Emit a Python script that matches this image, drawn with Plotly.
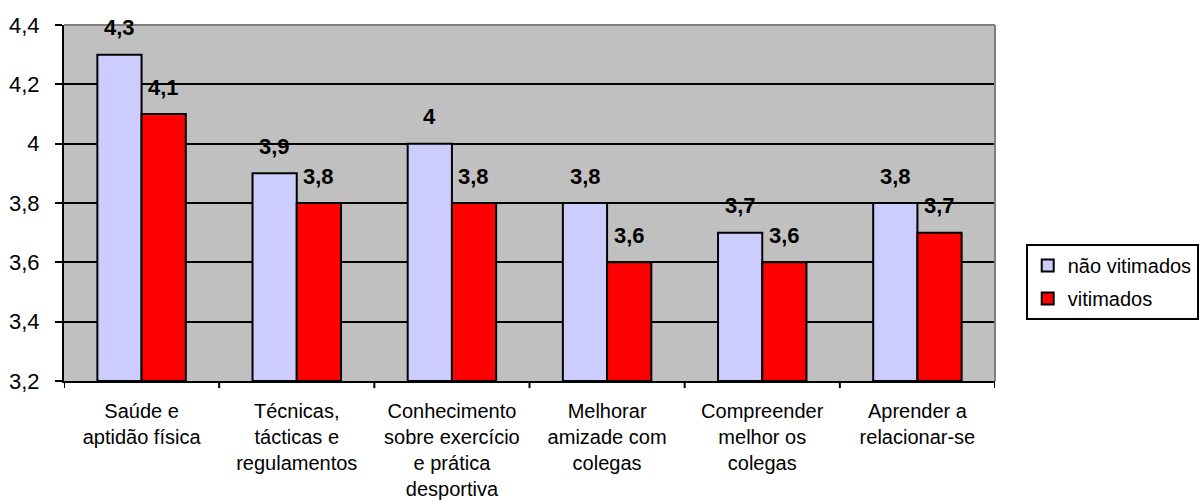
import plotly.graph_objects as go

categories = [
    "Saúde e<br>aptidão física",
    "Técnicas,<br>tácticas e<br>regulamentos",
    "Conhecimento<br>sobre exercício<br>e prática<br>desportiva",
    "Melhorar<br>amizade com<br>colegas",
    "Compreender<br>melhor os<br>colegas",
    "Aprender a<br>relacionar-se",
]
nao_vitimados = [4.3, 3.9, 4.0, 3.8, 3.7, 3.8]
vitimados = [4.1, 3.8, 3.8, 3.6, 3.6, 3.7]
tick_vals = [3.2, 3.4, 3.6, 3.8, 4.0, 4.2, 4.4]
tick_text = ["3,2", "3,4", "3,6", "3,8", "4", "4,2", "4,4"]

BASE = 3.2
FONT = "Liberation Sans, Arial, sans-serif"
series = [
    ("não vitimados", nao_vitimados, "#CCCCFF"),
    ("vitimados", vitimados, "#FF0000"),
]

fig = go.Figure()
for name, vals, color in series:
    fig.add_trace(go.Bar(
        x=list(range(len(categories))),
        y=[v - BASE for v in vals],
        base=BASE,
        name=name,
        legendgroup=name,
        marker=dict(color=color, line=dict(color="black", width=2)),
    ))


def fmt(v):
    s = ("%.1f" % v).rstrip("0").rstrip(".")
    return s.replace(".", ",")


offset = 0.142
annotations = []
for k, (name, vals, color) in enumerate(series):
    dx = -offset if k == 0 else offset
    for i, v in enumerate(vals):
        annotations.append(dict(
            x=i + dx, y=v, xref="x", yref="y",
            text="<b>%s</b>" % fmt(v), showarrow=False,
            yanchor="middle", yshift=27,
            font=dict(family=FONT, size=22, color="black"),
        ))

fig.update_layout(
    width=1200, height=502,
    margin=dict(l=64, r=205, t=25, b=121, autoexpand=False),
    paper_bgcolor="white",
    plot_bgcolor="#C0C0C0",
    barmode="group",
    bargap=0.43,
    bargroupgap=0,
    separators=",.",
    font=dict(family=FONT, color="black"),
    annotations=annotations,
    legend=dict(
        x=1.033, y=0.385, xanchor="left", yanchor="top",
        bordercolor="black", borderwidth=2,
        font=dict(family=FONT, size=20, color="black"),
        itemwidth=30, traceorder="grouped", tracegroupgap=4,
    ),
    xaxis=dict(
        tickmode="array",
        tickvals=list(range(len(categories))),
        ticktext=categories,
        range=[-0.5, len(categories) - 0.5],
        showline=True, linecolor="black", linewidth=2,
        ticks="", showgrid=False, automargin=False,
        ticklabelstandoff=11,
        tickfont=dict(family=FONT, size=20, color="black"),
    ),
    yaxis=dict(
        range=[BASE, 4.4],
        tickmode="array", tickvals=tick_vals, ticktext=tick_text,
        showline=True, linecolor="black", linewidth=2,
        ticks="outside", ticklen=7, tickwidth=2, tickcolor="black",
        showgrid=True, gridcolor="black", gridwidth=2,
        zeroline=False, automargin=False,
        ticklabelstandoff=11,
        tickfont=dict(family=FONT, size=22, color="black"),
    ),
    shapes=[
        dict(type="line", xref="paper", yref="paper", x0=0, x1=1, y0=1, y1=1,
             line=dict(color="#808080", width=2)),
        dict(type="line", xref="paper", yref="paper", x0=1, x1=1, y0=0, y1=1,
             line=dict(color="#808080", width=2)),
    ] + [
        dict(type="line", xref="x", yref="paper", x0=i - 0.5, x1=i - 0.5,
             y0=0, y1=-0.02, line=dict(color="black", width=2))
        for i in range(len(categories) + 1)
    ],
)

fig.write_html("out.html")
